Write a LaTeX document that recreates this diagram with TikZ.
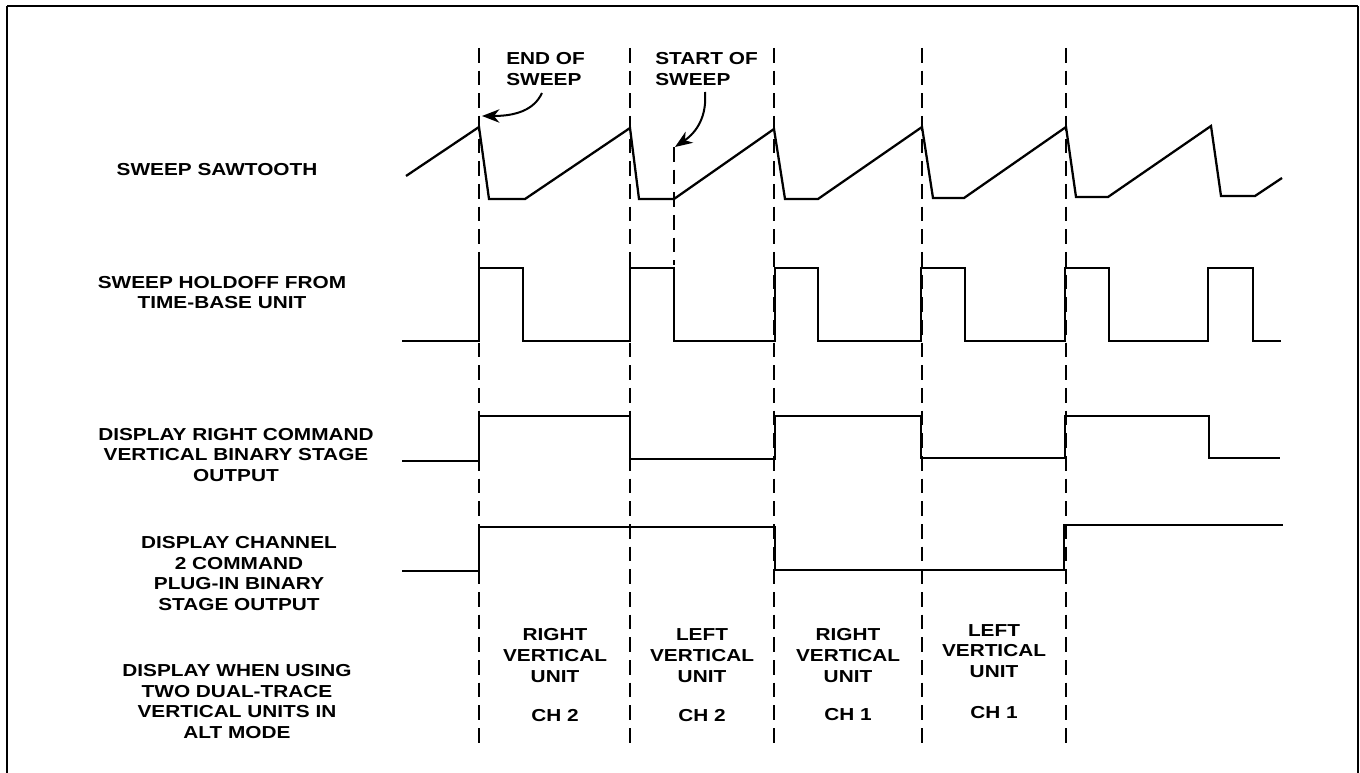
\documentclass[tikz,border=0pt]{standalone}
\usepackage{fontspec}
\setmainfont{Liberation Sans}[FakeStretch=1.2]
\usetikzlibrary{arrows.meta}
\tikzset{
  lab/.style={font=\fontsize{13}{15.6}\selectfont\bfseries, align=center, inner sep=0pt},
  labl/.style={font=\fontsize{13}{15.6}\selectfont\bfseries, align=left, inner sep=0pt, anchor=west},
  wave/.style={line width=1.3pt, line join=miter},
  saw/.style={line width=1.7pt, line join=miter},
  guide/.style={line width=1.2pt, dash pattern=on 11pt off 6pt},
  callout/.style={line width=1.5pt, -{Stealth[length=13pt,width=10pt,inset=4pt]}},
}
\begin{document}
\begin{tikzpicture}[x=0.75pt,y=-0.75pt]
\useasboundingbox (0,0) rectangle (1360,773);
% frame
\draw[line width=1.5pt] (7,773) -- (7,6);
\draw[line width=1pt] (7,6) -- (1358,6);
\draw[line width=1.2pt] (1358,6) -- (1358,773);

% guide lines
\foreach \gx/\gn in {479/g1,630/g2,774/g3,922/g4,1066/g5}{
  \coordinate (\gn t) at (\gx,48);
  \coordinate (\gn b) at (\gx,743);
  \draw[guide] (\gn t) -- (\gn b);
}
\coordinate (sst) at (674,147);
\coordinate (ssb) at (674,265);
\draw[guide] (sst) -- (ssb);

% left labels
\node[lab] (l1) at (217,170) {SWEEP SAWTOOTH};
\node[lab] (l2) at (222,292.5) {SWEEP HOLDOFF FROM\\TIME-BASE UNIT};
\node[lab] (l3) at (236,455) {DISPLAY RIGHT COMMAND\\VERTICAL BINARY STAGE\\OUTPUT};
\node[lab] (l4) at (239,573.5) {DISPLAY CHANNEL\\2 COMMAND\\PLUG-IN BINARY\\STAGE OUTPUT};
\node[lab] (l5) at (237,701.5) {DISPLAY WHEN USING\\TWO DUAL-TRACE\\VERTICAL UNITS IN\\ALT MODE};

% top labels
\node[labl] (eos) at (506,69) {END OF\\SWEEP};
\node[labl] (sos) at (655,69) {START OF\\SWEEP};
\coordinate (eosa) at (542,93);
\coordinate (eosb) at (482,116);
\draw[callout] (eosa) .. controls (534,110) and (516,116) .. (eosb);
\coordinate (sosa) at (705,92);
\coordinate (sosb) at (675,147);
\draw[callout] (sosa) .. controls (707,116) and (697,132) .. (sosb);

% sawtooth
\draw[saw] (406,176) -- (479,127) -- (489,199) -- (525,199) -- (630,128) -- (639,199) -- (674,199)
  -- (774,129) -- (785,199) -- (818,199) -- (922,127) -- (933,198) -- (964,198) -- (1066,127)
  -- (1076,197) -- (1108,197) -- (1211,126) -- (1221,196) -- (1255,196) -- (1282,178);

% holdoff
\draw[wave] (402,341) -- (479,341) -- (479,268) -- (523,268) -- (523,341) -- (630,341) -- (630,268)
  -- (674,268) -- (674,341) -- (775,341) -- (775,268) -- (818,268) -- (818,341) -- (921,341)
  -- (921,268) -- (965,268) -- (965,341) -- (1065,341) -- (1065,268) -- (1109,268) -- (1109,341)
  -- (1208,341) -- (1208,268) -- (1253,268) -- (1253,341) -- (1281,341);

% display right command
\draw[wave] (402,461) -- (479,461) -- (479,416) -- (630,416) -- (630,459) -- (775,459) -- (775,416)
  -- (921,416) -- (921,458) -- (1065,458) -- (1065,416) -- (1209,416) -- (1209,458) -- (1280,458);

% display channel 2 command
\draw[wave] (402,571) -- (479,571) -- (479,527) -- (775,527) -- (775,570) -- (1064,570) -- (1064,525) -- (1283,525);

% bottom labels
\node[lab] (c1) at (555,655.5) {RIGHT\\VERTICAL\\UNIT};
\node[lab] (c2) at (702,655.5) {LEFT\\VERTICAL\\UNIT};
\node[lab] (c3) at (848,655.5) {RIGHT\\VERTICAL\\UNIT};
\node[lab] (c4) at (994,651) {LEFT\\VERTICAL\\UNIT};
\node[lab] (d1) at (555,716) {CH 2};
\node[lab] (d2) at (702,716) {CH 2};
\node[lab] (d3) at (848,715) {CH 1};
\node[lab] (d4) at (994,713) {CH 1};
\end{tikzpicture}
\end{document}
